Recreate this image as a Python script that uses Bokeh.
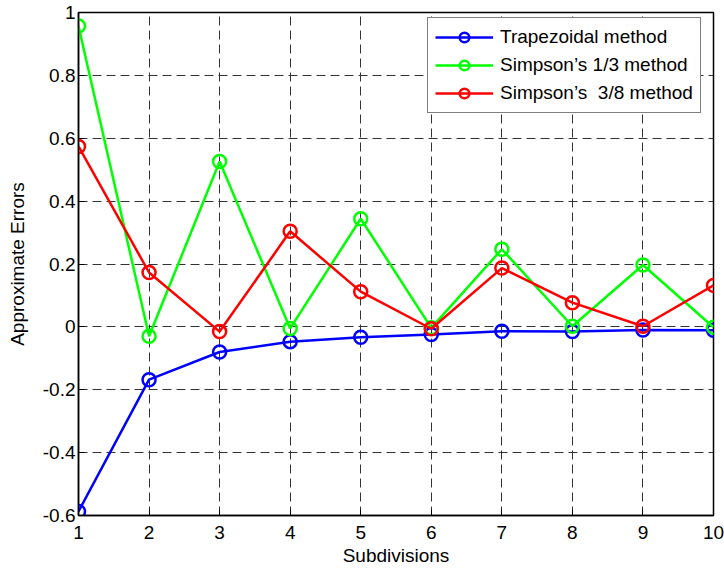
from bokeh.plotting import figure
from bokeh.models import FixedTicker, Legend, LegendItem, Range1d
from bokeh.embed import file_html
from bokeh.resources import INLINE

subdivisions = [1, 2, 3, 4, 5, 6, 7, 8, 9, 10]
trapezoidal = [-0.587, -0.168, -0.080, -0.047, -0.033, -0.024, -0.014, -0.015, -0.010, -0.011]
simpson13 = [0.957, -0.030, 0.526, -0.005, 0.344, -0.003, 0.247, 0.002, 0.197, -0.001]
simpson38 = [0.574, 0.173, -0.015, 0.304, 0.112, -0.006, 0.187, 0.077, 0.002, 0.132]
series_names = ["Trapezoidal method", "Simpson\u2019s 1/3 method", "Simpson\u2019s  3/8 method"]
series_colors = ["#0000FF", "#00FF00", "#FF0000"]
x_ticks = [1, 2, 3, 4, 5, 6, 7, 8, 9, 10]
y_ticks = [-0.6, -0.4, -0.2, 0, 0.2, 0.4, 0.6, 0.8, 1.0]
y_tick_labels = ["-0.6", "-0.4", "-0.2", "0", "0.2", "0.4", "0.6", "0.8", "1"]

FONT = "Liberation Sans"
FS = "19px"

p = figure(width=724, height=568, output_backend="svg", toolbar_location=None,
           x_range=Range1d(1, 10), y_range=Range1d(-0.6, 1.0),
           min_border_left=78, min_border_right=11, min_border_top=12, min_border_bottom=10)
p.background_fill_color = "white"
p.border_fill_color = "white"
p.outline_line_color = "black"
p.outline_line_width = 1.5

for ax in (p.xaxis[0], p.yaxis[0]):
    ax.major_tick_in = 6
    ax.major_tick_out = 0
    ax.minor_tick_in = 0
    ax.minor_tick_out = 0
    ax.axis_line_color = "black"
    ax.axis_line_width = 1.5
    ax.major_tick_line_width = 1
    ax.major_label_text_font = FONT
    ax.major_label_text_font_size = FS
    ax.major_label_text_color = "black"
    ax.axis_label_text_font = FONT
    ax.axis_label_text_font_size = FS
    ax.axis_label_text_font_style = "normal"
    ax.axis_label_text_color = "black"

p.xaxis[0].ticker = FixedTicker(ticks=x_ticks)
p.yaxis[0].ticker = FixedTicker(ticks=y_ticks)
p.yaxis[0].major_label_overrides = {t: l for t, l in zip(y_ticks, y_tick_labels)}
p.xaxis[0].major_label_standoff = 10
p.yaxis[0].major_label_standoff = 3
p.xaxis[0].axis_label = "Subdivisions"
p.yaxis[0].axis_label = "Approximate Errors"
p.xaxis[0].axis_label_standoff = 3
p.yaxis[0].axis_label_standoff = 12

for g in (p.xgrid[0], p.ygrid[0]):
    g.grid_line_color = "#333333"
    g.grid_line_dash = "9 5"
    g.grid_line_width = 1
p.xgrid[0].ticker = FixedTicker(ticks=x_ticks)
p.ygrid[0].ticker = FixedTicker(ticks=y_ticks)

items = []
for ys, name, col in zip([trapezoidal, simpson13, simpson38], series_names, series_colors):
    r1 = p.line(subdivisions, ys, line_color=col, line_width=2.5)
    r2 = p.scatter(subdivisions, ys, marker="circle", size=13, fill_color=None,
                   line_color=col, line_width=2.5)
    items.append(LegendItem(label=name, renderers=[r1, r2]))

legend = Legend(items=items, location=(349, 402))
legend.label_text_font = FONT
legend.label_text_font_size = FS
legend.label_text_color = "black"
legend.glyph_width = 58
legend.glyph_height = 24
legend.label_height = 24
legend.label_standoff = 7
legend.spacing = 4
legend.padding = 7
legend.margin = 0
legend.border_line_color = "black"
legend.border_line_width = 1
legend.background_fill_color = "white"
legend.background_fill_alpha = 1
p.add_layout(legend, "center")

open("out.html", "w").write(file_html(p, INLINE))
